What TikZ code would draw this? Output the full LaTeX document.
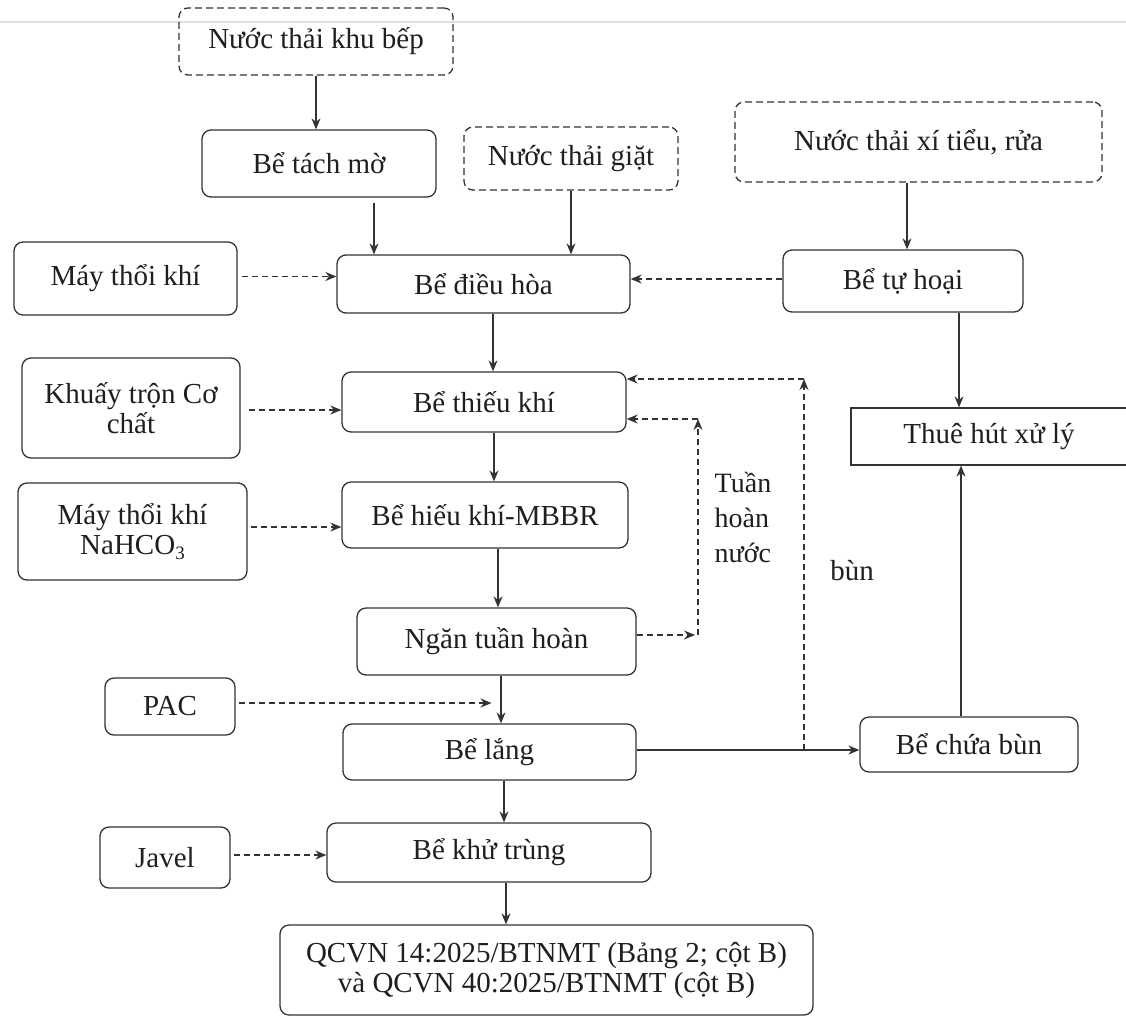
\documentclass[tikz,border=0pt]{standalone}
\usepackage{fontspec}
\setmainfont{Liberation Serif}
\usetikzlibrary{arrows.meta,calc}
\begin{document}
\begin{tikzpicture}[x=1pt,y=-1pt,
  ink/.style={draw=black!80, line width=1.3pt},
  txt/.style={font=\fontsize{29}{30}\selectfont, text=black!88},
  box/.style={ink, txt, rounded corners=9pt, align=center, inner sep=0pt},
  srcbox/.style={box, dash pattern=on 7pt off 4pt},
  arr/.style={ink, -{Stealth[length=11pt,width=9pt]}},
  darr/.style={arr, dash pattern=on 6pt off 4pt},
]
\useasboundingbox (0,0) rectangle (1126,1021);
\fill[white] (0,0) rectangle (1126,1021);
\draw[gray!25, line width=2pt] (0,22) -- (1126,22);

% nodes
\node[srcbox, minimum width=274pt, minimum height=67pt] (bep) at (316,41.5) {Nước thải khu bếp};
\node[box, minimum width=234pt, minimum height=67pt] (tachmo) at (319,163.5) {Bể tách mờ};
\node[srcbox, minimum width=214pt, minimum height=63pt] (giat) at (571,158.5) {Nước thải giặt};
\node[srcbox, minimum width=367pt, minimum height=80pt] (xitieu) at (918.5,142) {Nước thải xí tiểu, rửa};
\node[box, minimum width=223pt, minimum height=73pt] (may1) at (125.5,278.5) {Máy thổi khí};
\node[box, minimum width=293pt, minimum height=58pt] (dieuhoa) at (483.5,284) {Bể điều hòa};
\node[box, minimum width=240pt, minimum height=62pt] (tuhoai) at (903,281) {Bể tự hoại};
\node[box, minimum width=218pt, minimum height=100pt] (khuay) at (131,408) {Khuấy trộn Cơ\\chất};
\node[box, minimum width=284pt, minimum height=60pt] (thieukhi) at (484,402) {Bể thiếu khí};
\node[box, sharp corners, minimum width=276pt, minimum height=57pt] (thuehut) at (989,436.5) {Thuê hút xử lý};
\node[box, minimum width=229pt, minimum height=97pt] (may2) at (132.5,531.5) {Máy thổi khí\\NaHCO\raisebox{-0.35ex}{\fontsize{19}{19}\selectfont 3}};
\node[box, minimum width=286pt, minimum height=66pt] (hieukhi) at (485,515) {Bể hiếu khí-MBBR};
\node[box, minimum width=279pt, minimum height=67pt] (ngan) at (496.5,641.5) {Ngăn tuần hoàn};
\node[box, minimum width=130pt, minimum height=57pt] (pac) at (170,706.5) {PAC};
\node[box, minimum width=293pt, minimum height=56pt] (belang) at (489.5,752) {Bể lắng};
\node[box, minimum width=218pt, minimum height=55pt] (chuabun) at (969,744.5) {Bể chứa bùn};
\node[box, minimum width=130pt, minimum height=61pt] (javel) at (165,857.5) {Javel};
\node[box, minimum width=324pt, minimum height=59pt] (khutrung) at (489,852.5) {Bể khử trùng};
\node[box, minimum width=533pt, minimum height=90pt] (qcvn) at (546.5,970) {QCVN 14:2025/BTNMT (Bảng 2; cột B)\\và QCVN 40:2025/BTNMT (cột B)};

\node[txt, align=left, inner sep=0pt, font=\fontsize{28}{35}\selectfont] (tuan) at (743,517) {Tuần\\hoàn\\nước};
\node[txt, inner sep=0pt] (bun) at (852,571) {bùn};

% coordinates
\coordinate (r1) at (698,635);
\coordinate (r2) at (698,419);
\coordinate (j) at (804,750);
\coordinate (j2) at (804,379);

% main flow
\draw[arr] (bep.south) -- (bep.south |- tachmo.north);
\draw[arr] ([xshift=55pt,yshift=-5pt]tachmo.south) -- ([xshift=55pt]tachmo.south |- dieuhoa.north);
\draw[arr] (giat.south) -- (giat.south |- dieuhoa.north);
\draw[arr] ([xshift=4pt]tuhoai.north |- xitieu.south) -- ([xshift=4pt]tuhoai.north);
\draw[arr] ([xshift=56pt]tuhoai.south) -- ([xshift=56pt]tuhoai.south |- thuehut.north);
\draw[arr] ([xshift=9.5pt]dieuhoa.south) -- ([xshift=9.5pt]dieuhoa.south |- thieukhi.north);
\draw[arr] ([xshift=10pt]thieukhi.south) -- ([xshift=10pt]thieukhi.south |- hieukhi.north);
\draw[arr] ([xshift=13pt]hieukhi.south) -- ([xshift=13pt]hieukhi.south |- ngan.north);
\draw[arr] ([xshift=4.5pt]ngan.south) -- ([xshift=4.5pt]ngan.south |- belang.north);
\draw[arr] ([xshift=14.5pt]belang.south) -- ([xshift=14.5pt]belang.south |- khutrung.north);
\draw[arr] ([xshift=17pt]khutrung.south) -- ([xshift=17pt]khutrung.south |- qcvn.north);
\draw[arr] ([xshift=-8pt]chuabun.north) -- ([xshift=-8pt]chuabun.north |- thuehut.south);
\draw[arr] ([yshift=2pt]belang.east) -- ([yshift=2pt]belang.east -| chuabun.west);

% dashed inputs
\draw[darr] ([xshift=4pt,yshift=2pt]may1.east) -- ([yshift=2pt]may1.east -| dieuhoa.west);
\draw[darr] ([yshift=2pt]tuhoai.west) -- ([yshift=2pt]tuhoai.west -| dieuhoa.east);
\draw[darr] ([xshift=8pt,yshift=-2pt]khuay.east) -- ([yshift=-2pt]khuay.east -| thieukhi.west);
\draw[darr] ([xshift=3pt,yshift=4.5pt]may2.east) -- ([yshift=4.5pt]may2.east -| hieukhi.west);
\draw[darr] ([xshift=3pt,yshift=3.5pt]pac.east) -- ([xshift=-5pt,yshift=3.5pt]pac.east -| ngan.south);
\draw[darr] ([xshift=3pt,yshift=2.5pt]javel.east) -- ([yshift=2.5pt]javel.east -| khutrung.west);

% recirculation
\draw[darr] (ngan.east |- r1) -- ([xshift=-3pt]r1);
\draw[darr] (r1) -- (r2);
\draw[darr] (r2) -- (r2 -| thieukhi.east);
\draw[darr] (j) -- (j2);
\draw[darr] (j2) -- (j2 -| thieukhi.east);
\end{tikzpicture}
\end{document}
